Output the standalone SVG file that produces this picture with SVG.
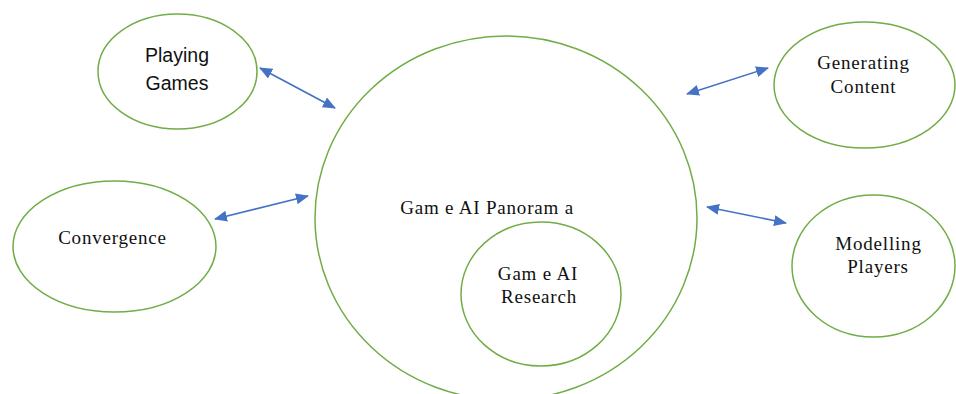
<svg xmlns="http://www.w3.org/2000/svg" width="956" height="394" viewBox="0 0 956 394">
<style>
.node{fill:#ffffff;stroke:#70AD47;stroke-width:1.5}
.conn{stroke:#4472C4;stroke-width:1.6;fill:none;marker-start:url(#ah);marker-end:url(#ah)}
.serif{font-family:"Liberation Serif","Times New Roman",serif;font-size:19px;letter-spacing:0.8px;fill:#111111;text-anchor:middle}
.sans{font-family:"Liberation Sans",Arial,sans-serif;font-size:19.5px;fill:#111111;text-anchor:middle}
</style>
<defs>
<marker id="ah" viewBox="0 0 13 11" refX="12" refY="5.5" markerWidth="13" markerHeight="11" markerUnits="userSpaceOnUse" orient="auto-start-reverse">
<path d="M0,0 L13,5.5 L0,11 Z" fill="#4472C4"/>
</marker>
</defs>
<rect width="956" height="394" fill="#ffffff"/>
<g id="panorama">
<ellipse class="node" cx="506" cy="218" rx="191" ry="182"/>
<text class="serif" x="487" y="214">Gam e AI Panoram a</text>
</g>
<g id="research">
<ellipse class="node" cx="541" cy="294" rx="80" ry="72"/>
<text class="serif" x="538" y="280">Gam e AI</text>
<text class="serif" x="539" y="303">Research</text>
</g>
<g id="playing">
<ellipse class="node" cx="177.5" cy="71.5" rx="79.5" ry="57.5"/>
<text class="sans" x="177" y="62">Playing</text>
<text class="sans" x="177" y="90">Games</text>
</g>
<g id="convergence">
<ellipse class="node" cx="114.5" cy="246.5" rx="101.5" ry="65.5"/>
<text class="serif" x="112.5" y="244">Convergence</text>
</g>
<g id="generating">
<ellipse class="node" cx="864.5" cy="85" rx="90.5" ry="63"/>
<text class="serif" x="863.5" y="69">Generating</text>
<text class="serif" x="863.5" y="93">Content</text>
</g>
<g id="modelling">
<ellipse class="node" cx="873.5" cy="266" rx="81.5" ry="71"/>
<text class="serif" x="878.5" y="250">Modelling</text>
<text class="serif" x="878" y="273">Players</text>
</g>
<g id="connectors">
<line class="conn" x1="260" y1="68" x2="335" y2="108"/>
<line class="conn" x1="215" y1="219" x2="308" y2="196"/>
<line class="conn" x1="687" y1="94" x2="768" y2="68"/>
<line class="conn" x1="707" y1="207" x2="786" y2="223"/>
</g>
</svg>
